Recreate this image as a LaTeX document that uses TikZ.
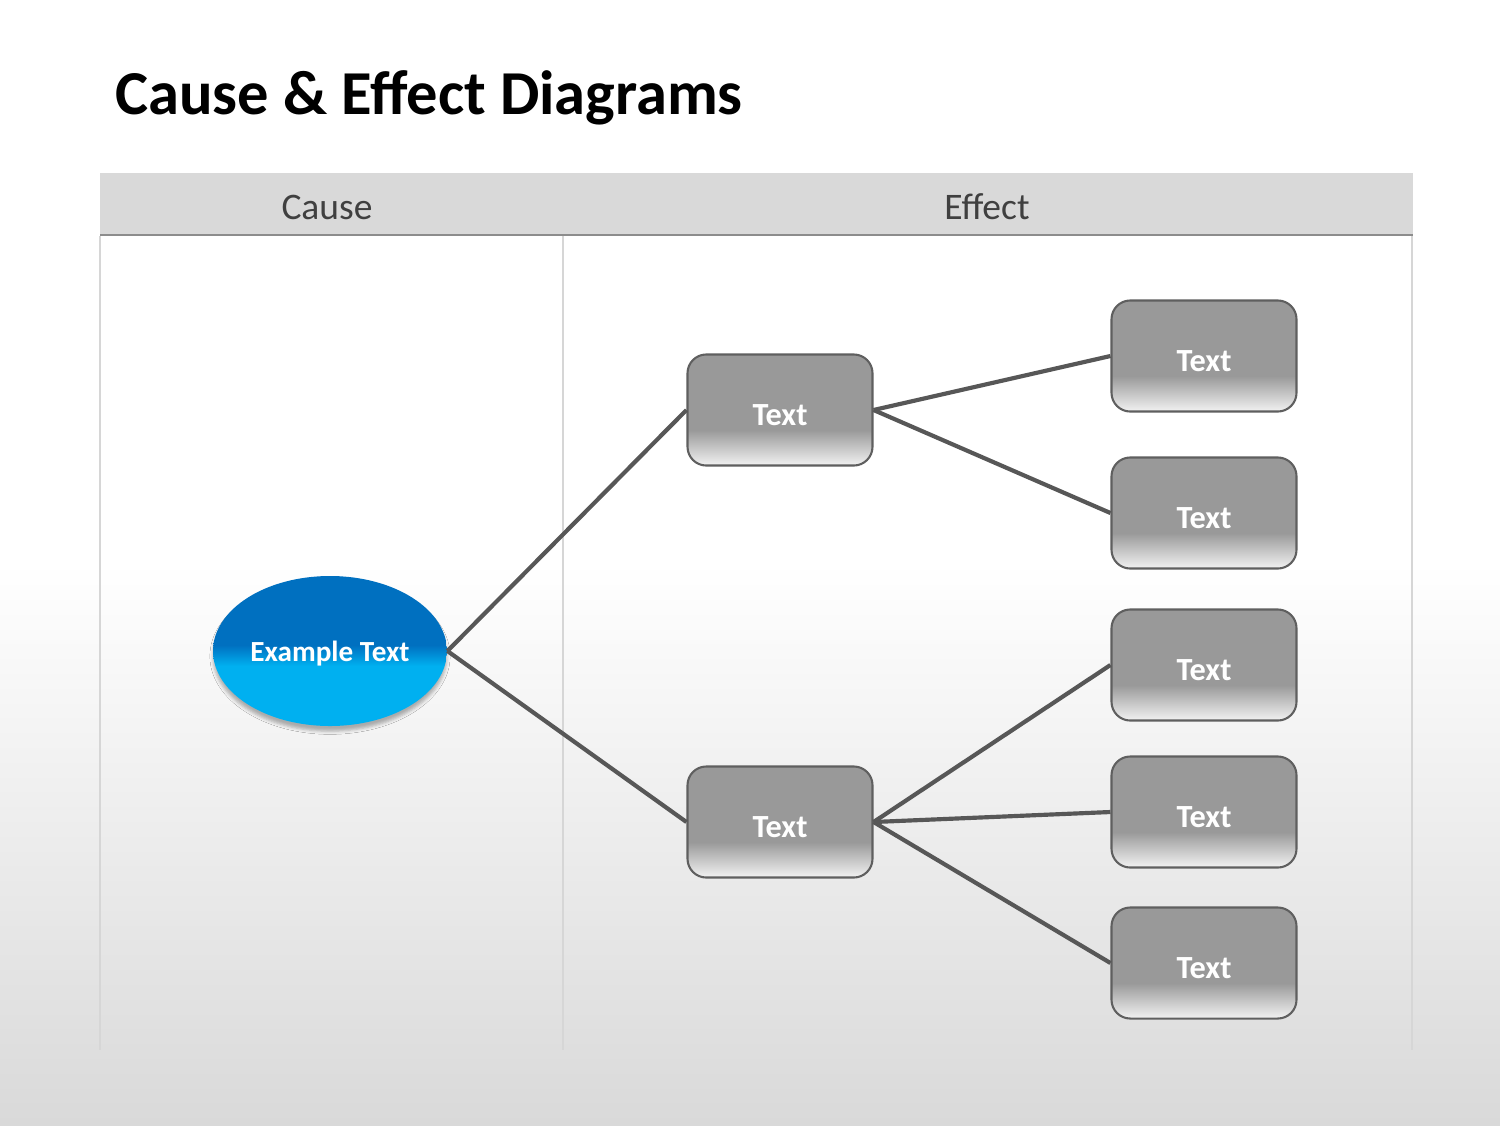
\documentclass[tikz,border=0pt]{standalone}
\usepackage{fontspec}
\setmainfont{Carlito}
\usetikzlibrary{shapes.geometric,shadows.blur}
\definecolor{boxgray}{HTML}{999999}
\definecolor{boxlow}{HTML}{F2F2F2}
\definecolor{boxedge}{HTML}{5F5F5F}
\definecolor{ovaltop}{HTML}{0070C0}
\definecolor{ovallow}{HTML}{00B0F0}
\definecolor{pagelow}{HTML}{D9D9D9}
\definecolor{headgray}{HTML}{D9D9D9}
\definecolor{rulegray}{HTML}{8C8C8C}
\definecolor{gridgray}{HTML}{D6D6D6}
\definecolor{linkgray}{HTML}{575757}
\definecolor{headtext}{HTML}{404040}
\pgfdeclareverticalshading{boxfade}{100bp}{color(0bp)=(boxlow); color(25bp)=(boxlow); color(41bp)=(boxgray); color(100bp)=(boxgray)}
\pgfdeclareverticalshading{ovalfade}{100bp}{color(0bp)=(ovallow); color(45bp)=(ovallow); color(52bp)=(ovaltop); color(100bp)=(ovaltop)}
\pgfdeclareverticalshading{pagefade}{100bp}{color(0bp)=(pagelow); color(25bp)=(pagelow); color(50bp)=(white); color(100bp)=(white)}
\begin{document}
\begin{tikzpicture}[x=0.48pt,y=-0.48pt,
  effect/.style={rectangle,rounded corners=9pt,draw=boxedge,line width=1pt,shade,shading=boxfade,
    minimum width=88.8pt,minimum height=53.3pt,inner sep=0pt,text height=14.5pt,text depth=0pt,
    text=white,font=\fontsize{15.5}{18}\selectfont\bfseries},
  cause/.style={ellipse,shade,shading=ovalfade,minimum width=112.3pt,minimum height=72pt,inner sep=0pt,
    text height=10pt,text depth=0pt,text=white,font=\fontsize{14}{17}\selectfont\bfseries,
    blur shadow={shadow xshift=0pt,shadow yshift=-2.5pt,shadow blur radius=1.5pt,shadow opacity=30}},
  link/.style={draw=linkgray,line width=2pt}]
  \useasboundingbox (0,0) rectangle (1500,1125);
  \shade[shading=pagefade] (0,0) rectangle (1500,1125);

  % table
  \fill[headgray] (100,173) rectangle (1413,235);
  \draw[rulegray,line width=1pt] (100,235) -- (1413,235);
  \draw[gridgray,line width=1pt] (100,236) -- (100,1050) (563,236) -- (563,1050) (1412,236) -- (1412,1050);

  \node[anchor=base west,font=\fontsize{30}{36}\selectfont\bfseries] (title) at (108,114) {Cause \& Effect Diagrams};
  \node[font=\fontsize{18}{22}\selectfont,text=headtext] (causehead) at (327,207) {Cause};
  \node[font=\fontsize{18}{22}\selectfont,text=headtext] (effecthead) at (987,207) {Effect};

  \node[cause] (ex) at (330,651) {Example Text};
  \node[effect] (m1) at (780,410) {Text};
  \node[effect] (m2) at (780,822) {Text};
  \foreach \i/\y in {1/356,2/513,3/665,4/812,5/963}
    \node[effect] (r\i) at (1204,\y) {Text};

  \draw[link] (ex.east) -- (m1.west);
  \draw[link] (ex.east) -- (m2.west);
  \draw[link] (m1.east) -- (r1.west);
  \draw[link] (m1.east) -- (r2.west);
  \draw[link] (m2.east) -- (r3.west);
  \draw[link] (m2.east) -- (r4.west);
  \draw[link] (m2.east) -- (r5.west);
\end{tikzpicture}
\end{document}
